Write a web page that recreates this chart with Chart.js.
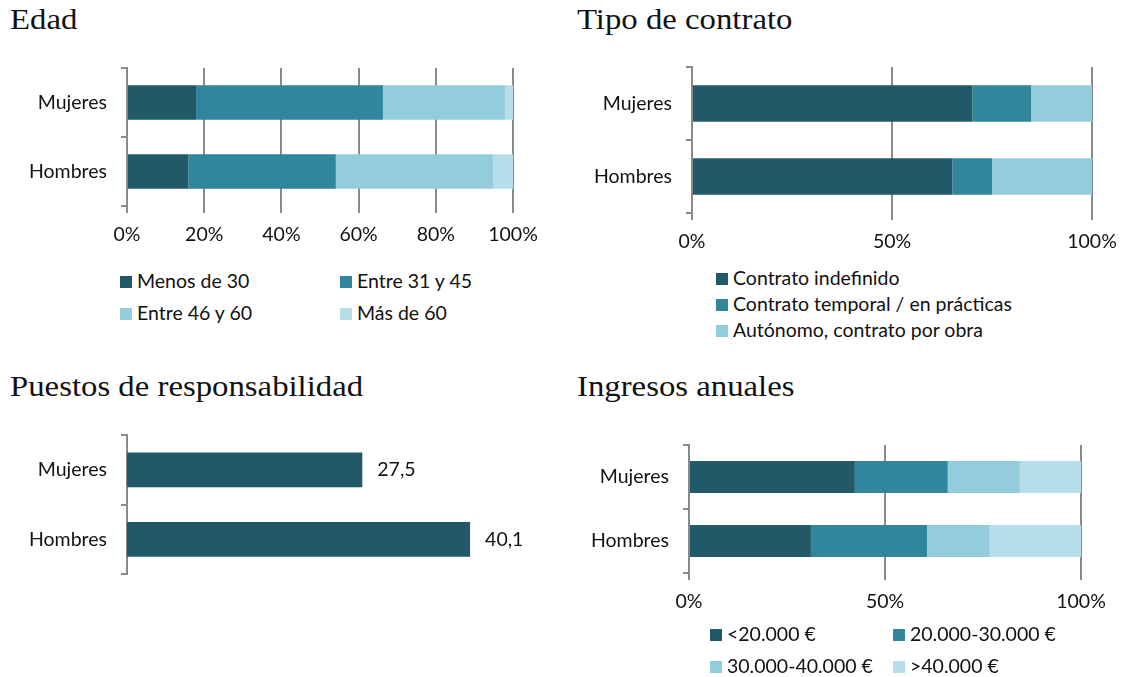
<!DOCTYPE html>
<html>
<head>
<meta charset="utf-8">
<script src="https://cdn.jsdelivr.net/npm/chart.js@4.4.1/dist/chart.umd.min.js"></script>
<style>
  body { margin: 0; width: 1122px; height: 677px; background: #fff; position: relative; overflow: hidden; font-family: Lato, sans-serif; }
  .title { position: absolute; font-family: "Liberation Serif", serif; font-size: 29px; color: #111; white-space: nowrap; transform: scaleX(1.13); transform-origin: left top; }
  .box { position: absolute; }
  .legend-item { position: absolute; font-size: 19.5px; color: #111; white-space: nowrap; line-height: 22px; }
  .legend-item span { display: inline-block; width: 12px; height: 12px; margin-right: 5px; vertical-align: 0px; }
</style>
</head>
<body>
<div class="title" style="left:10px;top:3px">Edad</div>
<div class="title" style="left:577px;top:3px">Tipo de contrato</div>
<div class="title" style="left:10px;top:370px">Puestos de responsabilidad</div>
<div class="title" style="left:577px;top:370px">Ingresos anuales</div>

<div class="box" style="left:0;top:60px;width:545px;height:200px"><canvas id="edad"></canvas></div>
<div class="box" style="left:565px;top:60px;width:557px;height:200px"><canvas id="contrato"></canvas></div>
<div class="box" style="left:0;top:425px;width:545px;height:160px"><canvas id="puestos"></canvas></div>
<div class="box" style="left:565px;top:435px;width:557px;height:190px"><canvas id="ingresos"></canvas></div>
<div id="legends"></div>

<script>
// categories
const groups = ['Mujeres', 'Hombres'];

// Edad (% of each group)
const edadLabels = ['Menos de 30', 'Entre 31 y 45', 'Entre 46 y 60', 'Más de 60'];
const edadMenos30 = [17.9, 15.9];
const edad31a45 = [48.4, 38.2];
const edad46a60 = [31.7, 40.7];
const edadMas60 = [2.0, 5.2];

// Tipo de contrato (%)
const contratoLabels = ['Contrato indefinido', 'Contrato temporal / en prácticas', 'Autónomo, contrato por obra'];
const contratoIndefinido = [70.1, 65.1];
const contratoTemporal = [14.7, 9.9];
const contratoAutonomo = [15.2, 25.0];

// Puestos de responsabilidad
const puestosValues = [27.5, 40.1];

// Ingresos anuales (%)
const ingresosLabels = ['<20.000 €', '20.000-30.000 €', '30.000-40.000 €', '>40.000 €'];
const ingresosMenos20 = [42.3, 31.1];
const ingresos20a30 = [23.7, 29.6];
const ingresos30a40 = [18.4, 16.0];
const ingresosMas40 = [15.6, 23.3];

const colors = ['#215968', '#31859c', '#93cddd', '#b7dee8'];
const axisColor = '#8a8a8a';
const textColor = '#111';
const font = { family: 'Lato', size: 19.5 };

function stackedSets(labels, series) {
  return series.map((data, i) => ({
    label: labels[i],
    data: data,
    backgroundColor: colors[i],
    borderWidth: 0,
    barPercentage: 0.5,
    categoryPercentage: 1,
  }));
}

function yScale(width) {
  return {
    stacked: true,
    grid: { offset: true, drawOnChartArea: false, tickLength: 6, color: axisColor, lineWidth: 2 },
    border: { color: axisColor, width: 2 },
    ticks: { color: textColor, font: font, padding: 14 },
    afterFit: (s) => {
      s.width = width;
      // labels sit at bar centres, no extra room needed above/below
      s.paddingTop = 0;
      s.paddingBottom = 0;
    },
  };
}

function xPercent(height, step) {
  return {
    stacked: true,
    min: 0,
    max: 100,
    grid: { color: axisColor, lineWidth: 2, tickLength: 7 },
    border: { display: false },
    ticks: { stepSize: step, color: textColor, font: font, padding: 10, callback: (v) => v + '%' },
    afterFit: (s) => {
      s.height = height;
      s.paddingLeft = 0;
      s.paddingRight = 0;
    },
  };
}

function makeChart(id, datasets, x, y, padding, plugins) {
  return new Chart(document.getElementById(id), {
    type: 'bar',
    data: { labels: groups, datasets: datasets },
    options: {
      indexAxis: 'y',
      responsive: true,
      maintainAspectRatio: false,
      animation: false,
      layout: { padding: padding },
      plugins: { legend: { display: false }, tooltip: { enabled: false } },
      scales: { x: x, y: y },
    },
    plugins: plugins || [],
  });
}

// value labels to the right of the bars
const barValues = {
  id: 'barValues',
  afterDatasetsDraw(chart) {
    const ctx = chart.ctx;
    const meta = chart.getDatasetMeta(0);
    ctx.save();
    ctx.font = '19.5px Lato';
    ctx.fillStyle = textColor;
    ctx.textBaseline = 'middle';
    ctx.textAlign = 'left';
    meta.data.forEach((bar, i) => {
      const v = chart.data.datasets[0].data[i];
      ctx.fillText(v.toFixed(1).replace('.', ','), bar.x + 15, bar.y);
    });
    ctx.restore();
  },
};

makeChart('edad',
  stackedSets(edadLabels, [edadMenos30, edad31a45, edad46a60, edadMas60]),
  xPercent(54, 20), yScale(127), { top: 8, right: 32, left: 0, bottom: 0 });

makeChart('contrato',
  stackedSets(contratoLabels, [contratoIndefinido, contratoTemporal, contratoAutonomo]),
  xPercent(47, 50), yScale(127), { top: 7, right: 30, left: 0, bottom: 0 });

makeChart('puestos',
  [{ data: puestosValues, backgroundColor: colors[0], borderWidth: 0, barPercentage: 0.5, categoryPercentage: 1 }],
  { display: false, min: 0, max: 45 }, yScale(127), { top: 10, right: 33, left: 0, bottom: 11 }, [barValues]);

makeChart('ingresos',
  stackedSets(ingresosLabels, [ingresosMenos20, ingresos20a30, ingresos30a40, ingresosMas40]),
  xPercent(52, 50), yScale(124), { top: 10, right: 41, left: 0, bottom: 0 });

// HTML legends
function addLegend(labels, positions) {
  const box = document.getElementById('legends');
  labels.forEach((label, i) => {
    const el = document.createElement('div');
    el.className = 'legend-item';
    el.style.left = positions[i][0] + 'px';
    el.style.top = (positions[i][1] - 11) + 'px';
    el.innerHTML = '<span style="background:' + colors[i] + '"></span>' + label;
    box.appendChild(el);
  });
}
addLegend(edadLabels, [[120, 281], [340, 281], [120, 313], [340, 313]]);
addLegend(contratoLabels, [[716, 278], [716, 304], [716, 330]]);
addLegend(ingresosLabels, [[710, 634], [893, 634], [710, 666], [893, 666]]);
</script>
</body>
</html>
